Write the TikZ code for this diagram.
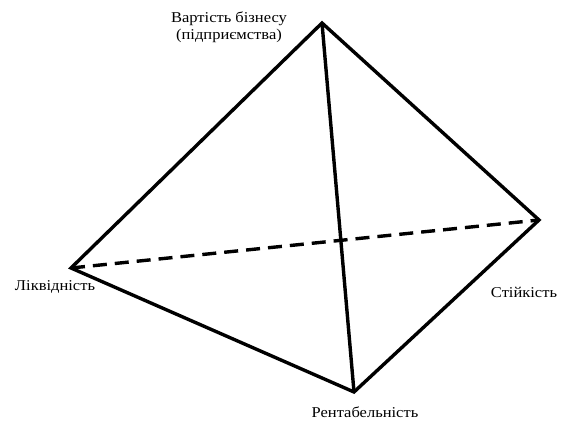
\documentclass[tikz,border=0pt]{standalone}
\usepackage{fontspec}
\setmainfont{Liberation Serif}[FakeStretch=1.1]
\begin{document}
\begin{tikzpicture}[x=1pt,y=-1pt,
  edge/.style={line width=3.4pt,line join=miter},
  lbl/.style={font=\fontsize{15}{17}\selectfont,inner sep=0pt,align=center}]
\useasboundingbox (0,0) rectangle (562,422);
\coordinate (T) at (322,23);
\coordinate (L) at (71,268);
\coordinate (R) at (539,220);
\coordinate (B) at (354,392);
\draw[edge] (L) -- (T) -- (R) -- (B) -- cycle;
\draw[edge] (T) -- (B);
\draw[edge,dash pattern=on 14pt off 8pt] (L) -- (R);
\node[lbl] (tl) at (229,27) {Вартість бізнесу\\(підприємства)};
\node[lbl] (ll) at (55,287) {Ліквідність};
\node[lbl] (rl) at (524,292) {Стійкість};
\node[lbl] (bl) at (365,412) {Рентабельність};
\end{tikzpicture}
\end{document}
